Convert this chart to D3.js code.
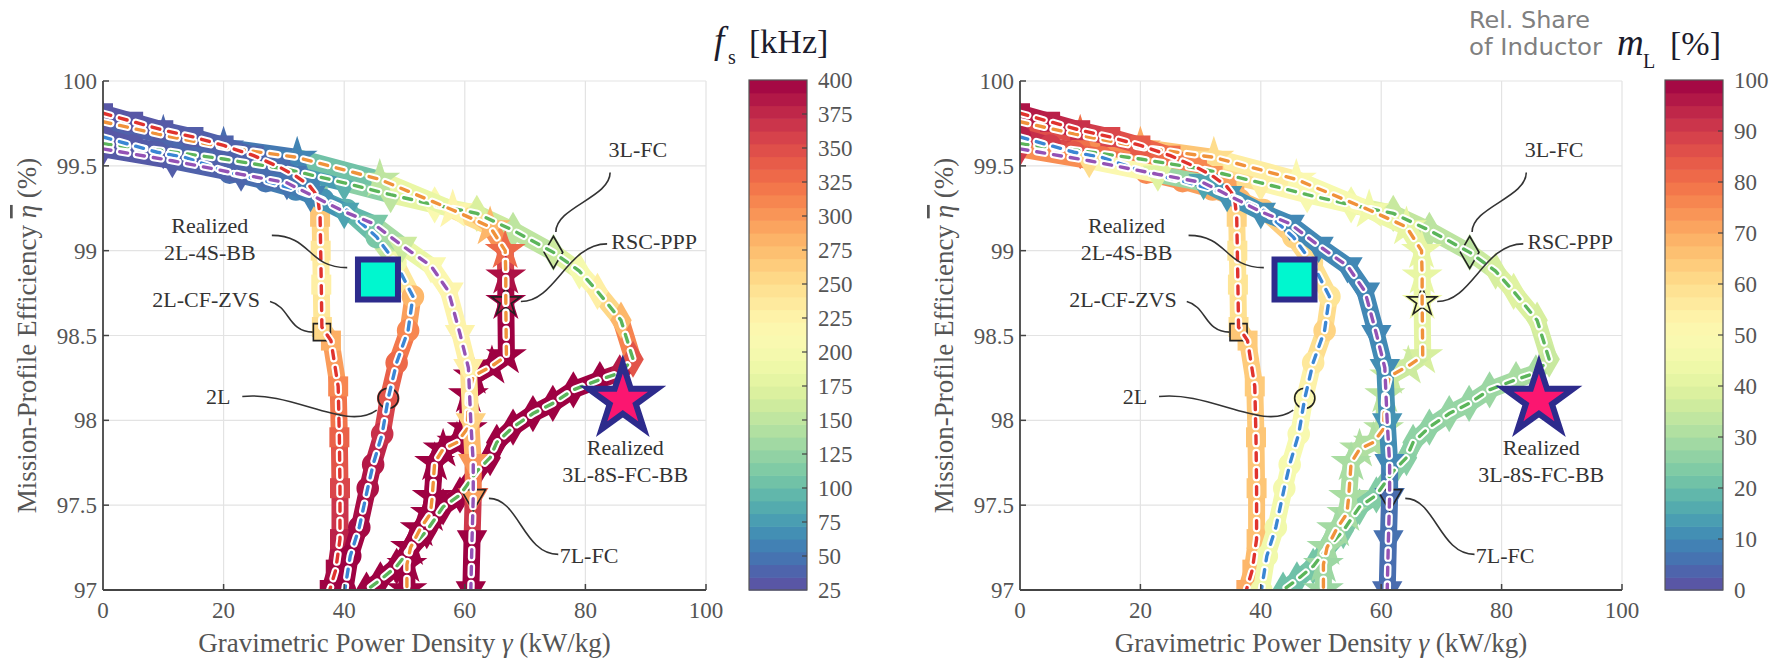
<!DOCTYPE html>
<html>
<head>
<meta charset="utf-8">
<script src="https://cdn.jsdelivr.net/npm/d3@7"></script>
<style>
    body { margin: 0; background: #fff; }
    svg text { font-family: "Liberation Serif", "Times New Roman", serif; }
</style>
</head>
<body>
<svg id="chart" width="1780" height="660"></svg>
<script>

// ---- axis ticks ----
const xTicks = [0, 20, 40, 60, 80, 100];
const yTicks = [97, 97.5, 98, 98.5, 99, 99.5, 100];
const fsTicks = [25, 50, 75, 100, 125, 150, 175, 200, 225, 250, 275, 300, 325, 350, 375, 400];
const mlTicks = [0, 10, 20, 30, 40, 50, 60, 70, 80, 90, 100];

// ---- 2L-CF-ZVS (squares, red dashes) ----
const zvsX = [0, 5, 10, 15, 20, 25, 29.4, 32, 34.3, 35.6, 36.0, 36.1, 36.2, 36.3, 37.8, 39.0, 39.2, 39.3, 39.3, 38.6, 37.6];
const zvsY = [99.81, 99.76, 99.71, 99.67, 99.62, 99.56, 99.49, 99.44, 99.38, 99.32, 99.2, 99.0, 98.8, 98.55, 98.47, 98.2, 97.9, 97.6, 97.3, 97.12, 97.0];
const zvsFs = [30, 30, 32, 35, 38, 40, 45, 50, 60, 120, 270, 240, 230, 250, 285, 310, 335, 355, 380, 395, 400];
const zvsML = [97, 95, 92, 88, 84, 80, 76, 74, 72, 70, 62, 58, 58, 60, 64, 64, 65, 65, 66, 68, 70];

// ---- 2L (circles, blue dashes) ----
const twoX = [0, 5, 9, 13.6, 21, 27, 32, 36.5, 40.4, 45.4, 48.5, 51.4, 50.6, 48.7, 47.3, 46.3, 44.8, 43.9, 42.5, 41, 40.1];
const twoY = [99.67, 99.62, 99.58, 99.55, 99.46, 99.41, 99.36, 99.30, 99.24, 99.08, 98.93, 98.73, 98.53, 98.34, 98.13, 97.92, 97.74, 97.60, 97.37, 97.2, 97.0];
const twoFs = [30, 32, 35, 40, 45, 50, 60, 70, 90, 110, 200, 280, 310, 330, 345, 370, 385, 390, 395, 400, 400];
const twoML = [95, 90, 85, 80, 76, 74, 70, 68, 65, 62, 60, 58, 62, 57, 50, 48, 47, 46, 45, 45, 45];

// ---- 3L-FC (diamonds, green dashes) ----
const tlX = [0, 10, 20, 30.5, 40, 47.7, 55, 62, 68, 74.7, 79, 82, 85.9, 87.9, 85.7, 82.4, 78, 74.6, 71.3, 68, 65.3, 64.2, 62, 59.2, 56.4, 53.7, 50.9, 48.7, 46, 43.7];
const tlY = [99.63, 99.59, 99.54, 99.48, 99.40, 99.33, 99.27, 99.22, 99.12, 98.99, 98.88, 98.76, 98.59, 98.36, 98.28, 98.24, 98.18, 98.10, 98.04, 97.96, 97.87, 97.78, 97.70, 97.56, 97.49, 97.35, 97.24, 97.14, 97.06, 97.0];
const tlFs = [30, 35, 45, 60, 90, 150, 210, 170, 150, 150, 200, 230, 280, 345, 385, 400, 400, 400, 400, 400, 400, 400, 400, 400, 400, 400, 400, 400, 400, 400];
const tlML = [95, 85, 75, 65, 55, 48, 45, 35, 33, 33, 38, 40, 38, 35, 30, 30, 28, 27, 27, 26, 26, 25, 25, 24, 24, 23, 22, 22, 21, 21];

// ---- RSC-PPP (stars, orange dashes) ----
const rscX = [0, 10, 20, 32.2, 45.9, 58, 64.2, 66.7, 66.8, 66.8, 66.9, 64.5, 61.4, 60.6, 60.4, 58.7, 56.4, 55, 54.6, 54.3, 52.6, 51, 50.4, 50.4];
const rscY = [99.76, 99.68, 99.61, 99.55, 99.42, 99.24, 99.14, 99.0, 98.85, 98.7, 98.38, 98.32, 98.26, 98.15, 97.95, 97.87, 97.83, 97.75, 97.55, 97.45, 97.36, 97.25, 97.15, 97.0];
const rscFs = [35, 40, 45, 60, 150, 220, 280, 330, 390, 400, 400, 400, 400, 400, 400, 400, 400, 400, 400, 400, 400, 400, 400, 400];
const rscML = [93, 80, 70, 60, 50, 45, 42, 42, 42, 44, 38, 36, 35, 33, 32, 31, 31, 30, 30, 30, 29, 29, 28, 28];

// ---- 7L-FC (down triangles, purple dashes) ----
const svX = [0, 11.5, 22.9, 30.5, 34.4, 40, 44.8, 49.6, 54.4, 57.3, 59.2, 60.6, 61, 61.4, 61.4, 61.2, 61];
const svY = [99.60, 99.53, 99.45, 99.40, 99.33, 99.23, 99.16, 99.03, 98.91, 98.76, 98.51, 98.31, 97.99, 97.75, 97.55, 97.3, 97.0];
const svFs = [30, 35, 40, 50, 60, 80, 110, 160, 210, 220, 225, 230, 260, 300, 330, 400, 400];
const svML = [90, 60, 40, 15, 12, 11, 10, 10, 10, 10, 10, 11, 12, 10, 6, 6, 5];

// ---- highlighted design points: 2L-CF-ZVS, 2L, 3L-FC, RSC-PPP, 7L-FC ----
const designX = [36.3, 47.3, 74.7, 66.8, 61.4];
const designY = [98.52, 98.13, 98.99, 98.70, 97.55];
const designFs = [255, 345, 160, 385, 295];
const designML = [65, 50, 33, 45, 5];

// ---- realized prototypes ----
const realizedX = [45.6, 86.2];
const realizedY = [98.83, 98.12];


const families = [
    {x: tlX, y: tlY, fs: tlFs, ml: tlML, symbol: d3.symbolDiamond, rot: 0, color: "#5bb55a"},
    {x: rscX, y: rscY, fs: rscFs, ml: rscML, symbol: d3.symbolStar, rot: 0, color: "#f0923a"},
    {x: zvsX, y: zvsY, fs: zvsFs, ml: zvsML, symbol: d3.symbolSquare, rot: 0, color: "#e0332e"},
    {x: twoX, y: twoY, fs: twoFs, ml: twoML, symbol: d3.symbolCircle, rot: 0, color: "#3a86d4"},
    {x: svX, y: svY, fs: svFs, ml: svML, symbol: d3.symbolTriangle, rot: 180, color: "#9452b5"}
];
const designSymbols = [d3.symbolSquare, d3.symbolCircle, d3.symbolDiamond, d3.symbolStar, d3.symbolTriangle];
const designSizes = [290, 320, 300, 260, 260];

// annotation labels (data units) and callout curves (data units + px control offsets)
const notes = [
    {lines: ["Realized", "2L-4S-BB"], x: 17.7, y: 99.104},
    {lines: ["2L-CF-ZVS"], x: 17.1, y: 98.668},
    {lines: ["2L"], x: 19.1, y: 98.097},
    {lines: ["3L-FC"], x: 88.7, y: 99.552},
    {lines: ["RSC-PPP"], x: 91.4, y: 99.01},
    {lines: ["7L-FC"], x: 80.6, y: 97.16},
    {lines: ["Realized", "3L-8S-FC-BB"], x: 86.6, y: 97.796}
];
const callouts = [
    {x0: 28.0, y0: 99.09, x1: 40.5, y1: 98.90, c0: [40, 0], c1: [-40, 0]},
    {x0: 27.7, y0: 98.70, x1: 34.8, y1: 98.52, c0: [20, 5], c1: [-25, 0]},
    {x0: 23.1, y0: 98.14, x1: 45.4, y1: 98.06, c0: [50, -6], c1: [-30, 22]},
    {x0: 84.1, y0: 99.46, x1: 75.1, y1: 99.11, c0: [0, 25], c1: [0, -25]},
    {x0: 83.6, y0: 99.04, x1: 69.3, y1: 98.70, c0: [-40, 0], c1: [35, 0]},
    {x0: 75.5, y0: 97.21, x1: 64.0, y1: 97.54, c0: [-35, 0], c1: [30, 0]}
];


class ParetoVis {

    constructor(svg, panel) {
        this.svg = svg;
        this.panel = panel;
        this.initVis();
    }

    initVis() {
        let vis = this;
        let p = vis.panel;

        vis.top = 81;
        vis.bottom = 590;

        vis.x = d3.scaleLinear().domain([0, 100]).range([p.left, p.right]);
        vis.y = d3.scaleLinear().domain([97, 100]).range([vis.bottom, vis.top]);
        vis.color = d3.scaleSequential(t => d3.interpolateSpectral(1 - t)).domain(p.domain);

        vis.g = vis.svg.append("g");

        // clip for the plot area
        vis.g.append("clipPath").attr("id", "clip-" + p.key)
            .append("rect")
            .attr("x", p.left).attr("y", vis.top)
            .attr("width", p.right - p.left).attr("height", vis.bottom - vis.top);

        // grid
        vis.g.append("g").selectAll("line.gx")
            .data(xTicks.slice(1)).enter().append("line")
            .attr("x1", d => vis.x(d)).attr("x2", d => vis.x(d))
            .attr("y1", vis.top).attr("y2", vis.bottom)
            .attr("stroke", "#e3e3e3").attr("stroke-width", 1.2);
        vis.g.append("g").selectAll("line.gy")
            .data(yTicks.slice(1)).enter().append("line")
            .attr("x1", p.left).attr("x2", p.right)
            .attr("y1", d => vis.y(d)).attr("y2", d => vis.y(d))
            .attr("stroke", "#e3e3e3").attr("stroke-width", 1.2);

        vis.drawSeries();
        vis.drawAxes();
        vis.drawNotes();
        vis.drawColorbar();
    }

    drawSeries() {
        let vis = this;
        let p = vis.panel;
        let plot = vis.g.append("g").attr("clip-path", "url(#clip-" + p.key + ")");

        // thick colour-coded ribbons of designs
        families.forEach(f => {
            let vals = f[p.key];
            let rib = plot.append("g");
            rib.selectAll("line")
                .data(d3.range(f.x.length - 1)).enter().append("line")
                .attr("x1", i => vis.x(f.x[i])).attr("y1", i => vis.y(f.y[i]))
                .attr("x2", i => vis.x(f.x[i + 1])).attr("y2", i => vis.y(f.y[i + 1]))
                .attr("stroke", i => vis.color((vals[i] + vals[i + 1]) / 2))
                .attr("stroke-width", 17)
                .attr("stroke-linecap", "round");
            rib.selectAll("path")
                .data(d3.range(f.x.length)).enter().append("path")
                .attr("d", d3.symbol().type(f.symbol).size(f.symbol === d3.symbolStar ? 520 : 400))
                .attr("transform", i => `translate(${vis.x(f.x[i])},${vis.y(f.y[i])}) rotate(${f.rot})`)
                .attr("fill", i => vis.color(vals[i]));
        });

        // highlighted design points
        let dv = p.key === "fs" ? designFs : designML;
        plot.append("g").selectAll("path")
            .data(designX).enter().append("path")
            .attr("d", (d, i) => d3.symbol().type(designSymbols[i]).size(designSizes[i])())
            .attr("transform", (d, i) => `translate(${vis.x(d)},${vis.y(designY[i])}) rotate(${i === 4 ? 180 : 0})`)
            .attr("fill", (d, i) => vis.color(dv[i]))
            .attr("stroke", "#222").attr("stroke-width", 1.6);

        // dashed trend lines with white halo
        let line = d3.line().x(d => vis.x(d[0])).y(d => vis.y(d[1]));
        families.forEach(f => {
            let pts = f.x.map((v, i) => [v, f.y[i]]);
            plot.append("path").attr("d", line(pts))
                .attr("fill", "none").attr("stroke", "#fff").attr("stroke-width", 7.5)
                .attr("stroke-dasharray", "8 9").attr("stroke-linecap", "round");
            plot.append("path").attr("d", line(pts))
                .attr("fill", "none").attr("stroke", f.color).attr("stroke-width", 3.4)
                .attr("stroke-dasharray", "8 9").attr("stroke-linecap", "round");
        });
    }

    drawAxes() {
        let vis = this;
        let p = vis.panel;
        let ax = vis.g.append("g");

        ax.append("line").attr("x1", p.left).attr("x2", p.right)
            .attr("y1", vis.bottom).attr("y2", vis.bottom)
            .attr("stroke", "#444").attr("stroke-width", 1.8);
        ax.append("line").attr("x1", p.left).attr("x2", p.left)
            .attr("y1", vis.top).attr("y2", vis.bottom)
            .attr("stroke", "#444").attr("stroke-width", 1.8);

        ax.selectAll("line.tx").data(xTicks.slice(1)).enter().append("line")
            .attr("x1", d => vis.x(d)).attr("x2", d => vis.x(d))
            .attr("y1", vis.bottom).attr("y2", vis.bottom - 6)
            .attr("stroke", "#444").attr("stroke-width", 1.5);
        ax.selectAll("line.ty").data(yTicks.slice(1)).enter().append("line")
            .attr("x1", p.left).attr("x2", p.left + 6)
            .attr("y1", d => vis.y(d)).attr("y2", d => vis.y(d))
            .attr("stroke", "#444").attr("stroke-width", 1.5);

        ax.selectAll("text.lx").data(xTicks).enter().append("text")
            .attr("x", d => vis.x(d)).attr("y", 618)
            .attr("text-anchor", "middle")
            .attr("font-size", 23).attr("fill", "#555")
            .text(d => d);
        ax.selectAll("text.ly").data(yTicks).enter().append("text")
            .attr("x", p.left - 6).attr("y", d => vis.y(d) + 8)
            .attr("text-anchor", "end")
            .attr("font-size", 23).attr("fill", "#555")
            .text(d => d);

        let xt = ax.append("text")
            .attr("x", (p.left + p.right) / 2).attr("y", 652)
            .attr("text-anchor", "middle")
            .attr("font-size", 27).attr("fill", "#555");
        xt.append("tspan").text("Gravimetric Power Density ");
        xt.append("tspan").attr("font-style", "italic").text("γ");
        xt.append("tspan").text(" (kW/kg)");

        let yt = ax.append("text")
            .attr("transform", `translate(${p.left - 67},${(vis.top + vis.bottom) / 2}) rotate(-90)`)
            .attr("text-anchor", "middle")
            .attr("font-size", 27).attr("fill", "#555");
        yt.append("tspan").text("Mission-Profile Efficiency ");
        yt.append("tspan").attr("font-style", "italic")
            .style("text-decoration", "overline").text("η");
        yt.append("tspan").text(" (%)");
    }

    drawNotes() {
        let vis = this;
        let nt = vis.g.append("g");

        nt.selectAll("path").data(callouts).enter().append("path")
            .attr("d", c => {
                let a = [vis.x(c.x0), vis.y(c.y0)], b = [vis.x(c.x1), vis.y(c.y1)];
                return `M${a[0]},${a[1]} C${a[0] + c.c0[0]},${a[1] + c.c0[1]} ${b[0] + c.c1[0]},${b[1] + c.c1[1]} ${b[0]},${b[1]}`;
            })
            .attr("fill", "none").attr("stroke", "#333").attr("stroke-width", 1.6);

        notes.forEach(n => {
            let t = nt.append("text")
                .attr("text-anchor", "middle")
                .attr("font-size", 22).attr("fill", "#333");
            n.lines.forEach((s, i) => {
                t.append("tspan").attr("x", vis.x(n.x)).attr("y", vis.y(n.y) + i * 27).text(s);
            });
        });

        // realized 2L-4S-BB square
        nt.append("rect")
            .attr("x", vis.x(realizedX[0]) - 20).attr("y", vis.y(realizedY[0]) - 20)
            .attr("width", 40).attr("height", 40)
            .attr("fill", "#00f7cf").attr("stroke", "#2d2b8c").attr("stroke-width", 6);

        // realized 3L-8S-FC-BB star
        let r = 36, ri = r * 0.382;
        let starPts = d3.range(10).map(i => {
            let a = -Math.PI / 2 + i * Math.PI / 5, rr = i % 2 ? ri : r;
            return [vis.x(realizedX[1]) + rr * Math.cos(a), vis.y(realizedY[1]) + rr * Math.sin(a)];
        });
        nt.append("path")
            .attr("d", "M" + starPts.join("L") + "Z")
            .attr("fill", "#fb1670").attr("stroke", "#2d2b8c").attr("stroke-width", 6)
            .attr("stroke-linejoin", "miter");
    }

    drawColorbar() {
        let vis = this;
        let p = vis.panel;
        let cb = vis.g.append("g");
        let w = 58, top = 80, bottom = 590;
        let cy = d3.scaleLinear().domain(p.domain).range([bottom, top]);
        let n = 40;
        let step = (p.domain[1] - p.domain[0]) / n;

        cb.selectAll("rect").data(d3.range(n)).enter().append("rect")
            .attr("x", p.cb).attr("width", w)
            .attr("y", i => cy(p.domain[0] + (i + 1) * step))
            .attr("height", i => cy(p.domain[0] + i * step) - cy(p.domain[0] + (i + 1) * step) + 0.6)
            .attr("fill", i => vis.color(p.domain[0] + (i + 0.5) * step));
        cb.append("rect").attr("x", p.cb).attr("y", top).attr("width", w).attr("height", bottom - top)
            .attr("fill", "none").attr("stroke", "#555").attr("stroke-width", 1.2);

        cb.selectAll("line").data(p.ticks.slice(1, -1)).enter().append("line")
            .attr("x1", p.cb + w - 5).attr("x2", p.cb + w)
            .attr("y1", d => cy(d)).attr("y2", d => cy(d))
            .attr("stroke", "#444").attr("stroke-width", 1.2);
        cb.selectAll("text").data(p.ticks).enter().append("text")
            .attr("x", p.cb + w + 11).attr("y", d => cy(d) + 8)
            .attr("font-size", 23).attr("fill", "#555")
            .text(d => d);
    }
}


const svg = d3.select("#chart");

const left = new ParetoVis(svg, {key: "fs", left: 103, right: 706, cb: 749, domain: [25, 400], ticks: fsTicks});
const right = new ParetoVis(svg, {key: "ml", left: 1020, right: 1622, cb: 1665, domain: [0, 100], ticks: mlTicks});

// colour bar titles
const titleColor = "#1c1c2c";
svg.append("text").attr("x", 714).attr("y", 53).attr("font-size", 37).attr("font-style", "italic").attr("fill", titleColor).text("f");
svg.append("text").attr("x", 728).attr("y", 64).attr("font-size", 20).attr("fill", titleColor).text("s");
svg.append("text").attr("x", 749).attr("y", 53).attr("font-size", 34).attr("fill", titleColor).text("[kHz]");

svg.append("text").attr("x", 1469).attr("y", 28).attr("font-size", 23)
    .style("font-family", "'DejaVu Sans Condensed', 'DejaVu Sans', sans-serif").attr("fill", "#808080")
    .attr("textLength", 121).attr("lengthAdjust", "spacingAndGlyphs").text("Rel. Share");
svg.append("text").attr("x", 1469).attr("y", 55).attr("font-size", 23)
    .style("font-family", "'DejaVu Sans Condensed', 'DejaVu Sans', sans-serif").attr("fill", "#808080")
    .attr("textLength", 133).attr("lengthAdjust", "spacingAndGlyphs").text("of Inductor");
svg.append("text").attr("x", 1617).attr("y", 55).attr("font-size", 37).attr("font-style", "italic").attr("fill", titleColor).text("m");
svg.append("text").attr("x", 1643).attr("y", 68).attr("font-size", 20).attr("fill", titleColor).text("L");
svg.append("text").attr("x", 1670).attr("y", 55).attr("font-size", 34).attr("fill", titleColor).text("[%]");

</script>
</body>
</html>
